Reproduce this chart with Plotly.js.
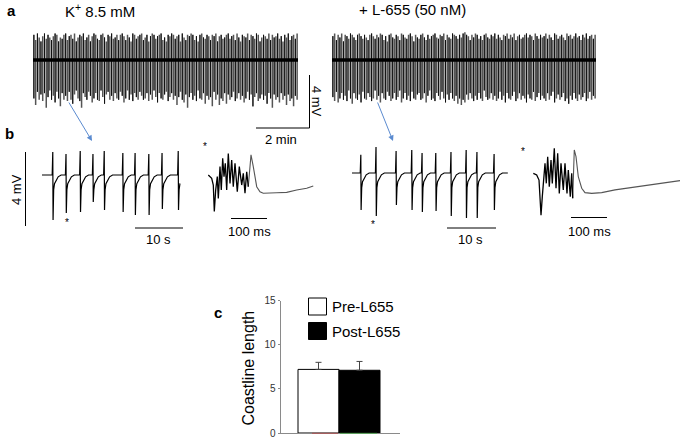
<!DOCTYPE html>
<html><head><meta charset="utf-8">
<script src="https://cdn.plot.ly/plotly-3.0.1.min.js"></script>
<style>html,body{margin:0;padding:0;background:#fff;}#chart{width:685px;height:442px;}</style>
</head><body><div id="chart"></div>
<script>
// ---------- DATA ----------
// Panel a: spike amplitudes (mV) across the 10-min traces
const upPre = [1.9,1.5,2.0,1.7,1.4,1.8,2.0,1.6,1.9,1.7, 1.5,1.8,2.0,1.9,1.4,1.7,1.6,1.9,2.0,1.5, 1.8,1.9,1.6,2.0,1.4,1.7,1.9,1.8,2.0,1.5, 1.7,1.9,1.4,1.8,2.0,1.9,1.6,1.5,1.9,2.0, 1.7,1.4,1.9,1.8,2.0,1.6,1.7,1.9,1.5,1.9, 2.0,1.8,1.5,1.9,1.7,1.4,2.0,1.9,1.6,1.8, 1.9,2.0,1.5,1.7,1.9,1.4,1.8,2.0,1.9,1.6, 1.8,1.9,2.0,1.5,1.7,1.4,1.9,1.8,2.0,1.9, 1.6,1.8,1.9,1.4,2.0,1.7,1.5,1.9,1.8,2.0, 1.9,1.5,1.8,1.4,1.9,2.0,1.7,1.6,1.9,1.8, 1.5,1.9,1.8,2.0,1.4,1.8,1.9,1.6,1.7,1.9, 2.0,1.6,1.8,1.9,1.5,2.0,1.7,1.4,1.9,1.8, 1.7,2.0,1.5,1.9,1.8,1.6,2.0,1.9,1.4,1.7, 1.9,1.8,1.6,2.0,1.5,1.9,1.7,1.8,2.0,1.6, 1.8,1.4,1.9,1.7,2.0,1.5,1.8,1.9,1.6,2.0];
const downPre = [-2.9,-3.4,-2.4,-3.0,-2.6,-3.1,-2.5,-3.6,-2.8,-2.3, -3.0,-2.7,-3.2,-2.4,-2.9,-3.5,-2.5,-3.0,-2.7,-3.1, -2.4,-3.0,-3.3,-2.6,-2.3,-2.9,-3.1,-3.6,-2.5,-2.8, -3.0,-2.4,-2.7,-3.2,-2.9,-2.5,-3.0,-3.1,-2.3,-2.8, -3.3,-2.6,-2.4,-3.0,-2.7,-3.1,-2.5,-2.9,-3.0,-2.4, -2.7,-3.2,-2.9,-2.3,-3.0,-2.6,-3.1,-2.5,-2.8,-3.0, -2.4,-2.7,-3.0,-2.9,-2.5,-3.1,-2.6,-3.0,-2.3,-2.8, -3.2,-2.5,-2.9,-3.0,-2.6,-2.4,-3.1,-2.8,-2.5,-3.0, -2.7,-3.4,-2.8,-2.4,-3.0,-3.2,-2.6,-3.6,-2.8,-2.5, -3.0,-2.7,-3.1,-2.3,-2.9,-3.0,-2.5,-3.3,-2.7,-3.0, -2.8,-3.5,-2.4,-3.0,-2.6,-3.4,-2.9,-3.1,-2.5,-3.3, -2.6,-3.0,-2.8,-2.4,-3.1,-2.9,-2.5,-3.0,-2.7,-3.2, -2.9,-2.4,-3.0,-2.6,-3.5,-2.8,-2.5,-3.1,-2.9,-2.6, -3.0,-2.7,-3.3,-2.5,-2.9,-3.6,-2.6,-3.0,-2.8,-3.2, -2.5,-3.0,-2.7,-3.4,-2.6,-3.1,-2.9,-3.5,-2.7,-3.0];
const upPost = [1.8,2.0,1.5,1.9,1.7,2.0,1.4,1.9,1.8,1.6, 2.0,1.9,1.7,1.5,1.9,2.0,1.8,1.6,1.9,1.7, 1.5,1.9,2.0,1.8,1.6,1.9,1.7,2.0,1.9,1.5, 1.8,1.4,1.9,2.0,1.7,1.6,1.9,1.8,1.5,2.0, 1.9,1.7,1.6,1.9,2.0,1.8,1.4,1.9,1.7,1.6, 1.9,2.0,1.7,1.5,1.9,1.6,1.8,1.9,2.0,1.7, 1.6,1.9,1.8,2.0,1.5,1.9,1.7,1.6,2.0,1.9, 1.8,1.6,1.9,1.7,2.0,2.1,1.9,1.8,1.5,1.9, 1.7,2.0,1.9,1.6,1.8,1.5,1.9,2.0,1.7,1.6, 1.9,1.8,2.0,1.6,1.9,1.7,1.5,1.9,1.8,2.0, 1.6,1.9,1.7,2.0,1.5,1.8,1.9,1.6,1.7,1.9, 2.0,1.7,1.9,1.8,1.5,2.0,1.8,1.6,1.9,1.7, 1.8,2.0,1.6,1.9,1.7,1.5,2.0,1.9,1.6,1.8, 1.9,1.7,1.5,2.0,1.8,1.9,1.6,1.8,2.0,1.7, 1.8,1.5,1.9,1.7,2.0,1.6,1.8,1.9,1.6,1.9];
const downPost = [-2.8,-3.1,-2.4,-3.2,-2.9,-2.5,-3.0,-2.7,-3.1,-2.3, -2.9,-3.3,-2.5,-2.9,-3.0,-2.6,-3.2,-2.4,-2.9,-3.0, -2.5,-2.8,-3.1,-2.9,-2.3,-3.0,-2.7,-3.2,-2.5,-2.9, -3.0,-2.4,-2.7,-3.1,-2.9,-2.5,-3.0,-2.8,-2.3,-3.2, -2.9,-2.5,-3.0,-2.7,-3.1,-2.4,-2.9,-3.0,-2.6,-2.5, -3.0,-2.9,-2.5,-3.2,-2.7,-2.3,-3.0,-2.9,-3.1,-2.5, -2.7,-3.0,-2.4,-2.9,-3.2,-2.6,-3.0,-2.5,-2.9,-3.1, -2.7,-3.3,-2.9,-3.4,-3.0,-3.2,-2.6,-3.0,-2.5,-2.9, -3.1,-2.7,-3.0,-2.5,-2.9,-3.1,-2.3,-2.8,-3.0,-2.9, -2.5,-3.0,-2.7,-3.1,-2.9,-2.4,-3.0,-2.7,-3.2,-2.5, -2.9,-3.0,-2.7,-2.4,-3.1,-2.9,-2.5,-3.0,-2.7,-2.9, -3.2,-2.6,-2.9,-3.0,-2.4,-3.1,-2.8,-2.5,-3.0,-2.7, -2.9,-3.1,-2.5,-3.0,-2.7,-2.4,-3.2,-2.9,-2.6,-3.0, -2.8,-2.5,-3.1,-2.9,-3.3,-2.7,-3.0,-2.5,-2.9,-3.1, -2.6,-3.0,-2.8,-2.5,-3.1,-2.9,-2.4,-3.0,-2.7,-2.9];

// Panel b: 30-s spike trains (s, mV)
const trainPreT    = [2.2, 4.9, 7.8, 10.4, 12.7, 16.5, 19.0, 21.8, 24.5, 27.8];
const trainPreUp   = [1.26, 1.15, 1.32, 1.15, 1.32, 1.20, 1.20, 1.15, 1.20, 1.32];
const trainPreDown = [-2.47, -2.08, -2.03, -1.48, -1.92, -2.03, -2.19, -2.19, -1.86, -1.92];
const trainPreEnd  = 28.2;
const trainPostT    = [1.8, 4.9, 9.0, 12.2, 14.3, 17.1, 20.2, 23.3, 25.5, 29.0];
const trainPostUp   = [1.00, 1.42, 1.20, 1.26, 1.10, 1.10, 1.15, 1.26, 1.15, 1.04];
const trainPostDown = [-2.03, -2.36, -1.75, -2.03, -2.14, -2.08, -2.36, -2.47, -2.47, -2.03];
const trainPostEnd  = 31.8;

// Panel b: single burst (*) waveforms (ms, mV)
const burstPreT = [0, 9.5, 14, 16.8, 20.7, 25.2, 28, 32.8, 36.4, 40.3, 44, 47.6, 51.5, 56, 60.8, 65.5, 70, 74.8, 81.2, 86.8, 93.6, 98, 102.8, 107.6, 112, 119.6, 126, 135.6, 144.8, 154, 191.6, 219.6, 247.6, 275.6, 294];
const burstPreV = [0, -0.18, -0.55, -2.0, -0.82, -0.09, -1.28, 0.46, -0.82, 0.91, -0.09, 0.64, -0.82, 1.18, -0.46, 0.82, -0.64, 0.64, -0.91, 0.46, -0.55, 0.09, -1.0, 0.18, -0.64, 1.1, 0.46, -0.64, -0.92, -1.0, -0.97, -0.95, -0.82, -0.73, -0.6];
const burstPostT = [0, 9.5, 16, 18.8, 21.6, 25.2, 29.1, 32.8, 36.4, 40.3, 44.8, 49.6, 53.2, 58.8, 63.6, 68.3, 72.8, 77.6, 84, 88.8, 94.4, 98, 103.6, 107.6, 110.4, 114.8, 119.6, 126, 135.6, 144.8, 163.6, 191.6, 228.9, 275.6, 322, 368.9, 410.9];
const burstPostV = [0, -0.09, -0.37, -1.1, -2.3, -1.28, 0, 0.55, -0.55, 0.91, -0.73, 0.73, -0.55, 1.37, -0.82, 1.1, -1.1, 0.55, -0.91, 0.55, -1.1, 0.18, -1.28, 0, -1.37, 1.28, 0.91, -0.18, -0.82, -1.06, -1.1, -1.06, -0.91, -0.78, -0.68, -0.55, -0.4];

// Panel c: coastline length
const barCats   = ['Pre-L655', 'Post-L655'];
const barVals   = [7.2, 7.1];
const barErrs   = [0.8, 1.0];
const barFills  = ['#ffffff', '#000000'];
const cTicks    = [0, 5, 10, 15];

// ---------- HELPERS ----------
const W = 685, H = 442;
const FONT = 'Arial, "Liberation Sans", sans-serif';
const px = v => v / W, py = v => 1 - v / H;
function xAx(p0, p1, origin, scale) { return {domain: [p0 / W, p1 / W], range: [(p0 - origin) / scale, (p1 - origin) / scale], visible: false, fixedrange: true}; }
function yAx(p0, p1, origin, scale) { return {domain: [1 - p1 / H, 1 - p0 / H], range: [(origin - p1) / scale, (origin - p0) / scale], visible: false, fixedrange: true}; }

function denseTraces(up, down, xa, ya) {
  const mk = (parity, color, w) => {
    const x = [], y = [];
    up.forEach((u, i) => { if (i % 2 === parity) { x.push(i, i, i, i, null); y.push(0, u, down[i], 0, null); } });
    return {x, y, xaxis: xa, yaxis: ya, type: 'scatter', mode: 'lines', connectgaps: false, line: {color, width: w}, hoverinfo: 'skip'};
  };
  return [mk(1, '#555555', 1.5), mk(0, '#111111', 1.0)];
}
function baseTrace(n, xa, ya) {
  return {x: [-0.5, n - 0.5], y: [0, 0], xaxis: xa, yaxis: ya, mode: 'lines', line: {color: '#000', width: 3.5}, hoverinfo: 'skip'};
}
// spike waveform template (relative time in s)
const tplDt = [-0.12, 0, 0.06, 0.18, 0.35, 0.7, 1.1, 1.7];
function trainTrace(T, U, D, tEnd, xa, ya) {
  const x = [0], y = [0];
  T.forEach((t, i) => {
    const v = [0, U[i], D[i], -0.8, -0.48, -0.26, -0.1, 0];
    tplDt.forEach((d, k) => { if (t + d <= tEnd) { x.push(t + d); y.push(v[k]); } });
  });
  if (x[x.length - 1] < tEnd) { x.push(tEnd); y.push(y[y.length - 1]); }
  return {x, y, xaxis: xa, yaxis: ya, mode: 'lines', line: {color: '#000', width: 1.2}, hoverinfo: 'skip'};
}
function burstTraces(T, V, xa, ya) {
  let pk = 1;
  for (let i = 1; i < V.length - 1; i++) if (V[i] > V[i - 1] && V[i] > V[i + 1]) pk = i;
  return [
    {x: T.slice(pk - 1), y: V.slice(pk - 1), xaxis: xa, yaxis: ya, mode: 'lines', line: {color: '#555', width: 1.1}, hoverinfo: 'skip'},
    {x: T.slice(0, pk), y: V.slice(0, pk), xaxis: xa, yaxis: ya, mode: 'lines', line: {color: '#000', width: 1.3}, hoverinfo: 'skip'}
  ];
}

// ---------- TRACES ----------
const data = [
  ...denseTraces(upPre, downPre, 'x', 'y'), baseTrace(upPre.length, 'x', 'y'),
  ...denseTraces(upPost, downPost, 'x2', 'y2'), baseTrace(upPost.length, 'x2', 'y2'),
  trainTrace(trainPreT, trainPreUp, trainPreDown, trainPreEnd, 'x3', 'y3'),
  ...burstTraces(burstPreT, burstPreV, 'x4', 'y4'),
  trainTrace(trainPostT, trainPostUp, trainPostDown, trainPostEnd, 'x5', 'y5'),
  ...burstTraces(burstPostT, burstPostV, 'x6', 'y6'),
  {x: [0, 1], y: barVals, width: [1, 1], type: 'bar', xaxis: 'x7', yaxis: 'y7', text: barCats, textposition: 'none',
   marker: {color: barFills, line: {color: '#000', width: 1}},
   error_y: {type: 'data', symmetric: false, array: barErrs, arrayminus: [0, 0], color: '#444', thickness: 1, width: 3},
   hoverinfo: 'skip'}
];

// ---------- LAYOUT ----------
const nA = upPre.length, nB = upPost.length;
const layout = {
  width: W, height: H, margin: {l: 0, r: 0, t: 0, b: 0}, paper_bgcolor: '#fff', plot_bgcolor: 'rgba(0,0,0,0)',
  showlegend: false, font: {family: FONT, color: '#000'},
  xaxis:  xAx(33, 298, 33 + 0.5 * 265 / nA, 265 / nA),
  yaxis:  yAx(22, 115, 60, 13.25),
  xaxis2: xAx(332, 596, 332 + 0.5 * 264 / nB, 264 / nB),
  yaxis2: yAx(22, 115, 60, 13.25),
  xaxis3: xAx(40, 184, 42, 4.9),
  yaxis3: yAx(140, 232, 175, 18.25),
  xaxis4: xAx(204, 320, 208.3, 0.357),
  yaxis4: yAx(140, 225, 175, 18.25),
  xaxis5: xAx(350, 512, 352, 4.9),
  yaxis5: yAx(140, 232, 173, 18.25),
  xaxis6: xAx(529, 685, 533.3, 0.357),
  yaxis6: yAx(140, 225, 173.3, 18.25),
  xaxis7: {domain: [280.5 / W, 400 / W], range: [(280.5 - 318.5) / 41, (400 - 318.5) / 41], anchor: 'y7',
           showline: true, linecolor: '#8a8a8a', linewidth: 1, showgrid: false, zeroline: false, showticklabels: false, ticks: '', fixedrange: true},
  yaxis7: {domain: [1 - 433 / H, 1 - 300.5 / H], range: [0, 15], anchor: 'x7', tickvals: cTicks,
           showline: true, linecolor: '#8a8a8a', linewidth: 1, showgrid: false, zeroline: false,
           ticks: 'outside', ticklen: 2, tickcolor: '#8a8a8a', tickfont: {size: 10, color: '#333', family: FONT}, fixedrange: true},
  shapes: [], annotations: []
};

function line(x0, y0, x1, y1, color, w) { layout.shapes.push({type: 'line', xref: 'paper', yref: 'paper', x0: px(x0), y0: py(y0), x1: px(x1), y1: py(y1), line: {color: color || '#000', width: w || 1}}); }
function rect(x0, y0, x1, y1, fill) { layout.shapes.push({type: 'rect', xref: 'paper', yref: 'paper', x0: px(x0), y0: py(y0), x1: px(x1), y1: py(y1), fillcolor: fill, line: {color: '#000', width: 1}}); }
function txt(x, y, s, size, opts) {
  layout.annotations.push(Object.assign({xref: 'paper', yref: 'paper', x: px(x), y: py(y), text: s, showarrow: false,
    xanchor: 'center', yanchor: 'middle', font: {size: size, family: FONT, color: '#000'}}, opts || {}));
}
function arrow(x0, y0, x1, y1) {
  layout.annotations.push({xref: 'paper', yref: 'paper', x: px(x1), y: py(y1), ax: x0 - x1, ay: y0 - y1, axref: 'pixel', ayref: 'pixel',
    text: '', showarrow: true, arrowhead: 2, arrowsize: 1.1, arrowwidth: 1, arrowcolor: '#5b8bd0'});
}

// scale bars panel a
line(309.5, 75, 309.5, 128); line(256, 128, 309.5, 128);
txt(316, 101, '4 mV', 13, {textangle: 90});
txt(281, 139, '2 min', 13);
// scale bars panel b
line(25.5, 152, 25.5, 226);
txt(16, 189, '4 mV', 13, {textangle: -90});
line(135, 228, 183, 228); txt(158, 240, '10 s', 13);
line(231, 218.5, 267, 218.5); txt(249, 231, '100 ms', 13);
line(447, 228, 496, 228); txt(470, 240, '10 s', 13);
line(571, 217.5, 607, 217.5); txt(589, 231, '100 ms', 13);
// asterisks
txt(67, 222, '*', 10); txt(205, 147, '*', 10); txt(373, 224, '*', 10); txt(523, 151, '*', 10);
// arrows
arrow(68, 101, 92, 141); arrow(377, 101, 393, 141);
// panel letters and titles
txt(11, 10, '<b>a</b>', 15); txt(9, 133, '<b>b</b>', 15); txt(217.5, 312, '<b>c</b>', 15);
txt(100, 10, 'K<sup>+</sup> 8.5 mM', 15);
txt(412, 9, '+ L-655 (50 nM)', 15);
// panel c legend and title
rect(308.5, 298, 326.5, 315, '#ffffff'); txt(330, 306.5, 'Pre-L655', 15, {xanchor: 'left'});
rect(308.5, 322.5, 326.5, 339.5, '#000000'); txt(330, 331, 'Post-L655', 15, {xanchor: 'left'});
txt(247.5, 368, 'Coastline length', 16, {textangle: -90});
line(312, 433.3, 338, 433.3, 'rgba(180,70,70,0.8)', 1);
line(340, 433.3, 377, 433.3, 'rgba(70,170,70,0.8)', 1);

Plotly.newPlot('chart', data, layout, {staticPlot: true, displayModeBar: false});
</script></body></html>
